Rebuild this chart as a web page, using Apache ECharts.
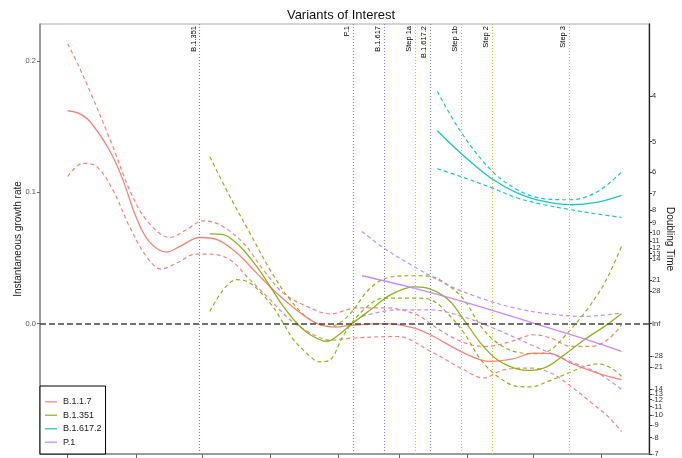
<!DOCTYPE html>
<html><head><meta charset="utf-8">
<script src="https://cdn.jsdelivr.net/npm/echarts@6/dist/echarts.min.js"></script>
<style>html,body{margin:0;padding:0;background:#fff}#c{width:682px;height:458px}</style>
</head><body><div id="c"></div>
<script>
// ---- data (x = days since 2020-10-01) ----
const ORIGIN = '2020-10-01';
const monthTicks = ['2020-10-01','2020-11-01','2020-12-01','2021-01-01','2021-02-01','2021-03-01','2021-04-01','2021-05-01','2021-06-01'];
const eventNames = ['B.1.351','P.1','B.1.617','Step 1a','B.1.617.2','Step 1b','Step 2','Step 3'];
const eventDates = ['2020-11-30','2021-02-08','2021-02-22','2021-03-08','2021-03-15','2021-03-29','2021-04-12','2021-05-17'];
const eventKinds = ['variant','variant','variant','step','variant','step','step','step'];
const rateTicks = [0, 0.1, 0.2];
const doublingTicks = [4,5,6,7,8,9,10,11,12,13,14,21,28,Infinity,-28,-21,-14,-13,-12,-11,-10,-9,-8,-7];

const b117Days = [0,5,10,19,25,31,37,45,51,60,68,77,86,95,104,113,122,129,144,157,165,180,192,202,212,220,229,241,252];
const b117Rate = [0.162,0.160,0.154,0.132,0.110,0.0816,0.0626,0.0545,0.0588,0.0656,0.0639,0.0538,0.0385,0.0233,0.0106,0.0005,-0.0025,-0.0012,0.0,-0.003,-0.0084,-0.022,-0.0287,-0.027,-0.0223,-0.0228,-0.0299,-0.0375,-0.0426];
const b117UpDays = [0,5,10.6,20.5,28.1,35.8,46.4,54,61.6,69.2,79.9,89,98.1,108.8,119.5,131.6,145.3,159,165.1,174.2,183.4,191,201.6,212.3,219.9,229,238.2,245.8,252];
const b117Up = [0.213,0.196,0.175,0.135,0.102,0.079,0.0656,0.0715,0.0783,0.0753,0.0614,0.041,0.0233,0.0132,0.0075,0.012,0.012,0.0068,0,-0.0097,-0.016,-0.0172,-0.0135,-0.0084,-0.011,-0.0172,-0.0172,-0.012,-0.0008];
const b117LoDays = [0,6.8,12.8,20.5,28.1,35.8,42.6,49.4,58.6,64.7,73.8,82.9,92.1,101.2,110.4,119.5,128.6,150,165.1,180.2,189.3,198.4,210.5,219.9,229,238.2,245.8,252];
const b117Lo = [0.112,0.122,0.12,0.102,0.074,0.0512,0.0416,0.046,0.053,0.053,0.0487,0.0335,0.0183,0.003,-0.007,-0.0125,-0.011,-0.0097,-0.021,-0.035,-0.0413,-0.035,-0.0337,-0.0375,-0.0477,-0.060,-0.0705,-0.082];

const b351Days = [64.7,70.8,78.4,86,92.1,98.1,104.2,110.4,118,124,129.4,137.8,146.9,157.5,163.6,173.2,180.3,187.9,195.5,204.7,210.8,218.4,226,235.1,244.3,252];
const b351Rate = [0.0684,0.0677,0.0588,0.0436,0.0284,0.0132,0.0005,-0.0084,-0.0135,-0.0076,0,0.0106,0.022,0.028,0.027,0.0183,0.003,-0.0147,-0.0274,-0.0345,-0.0355,-0.0325,-0.0236,-0.0122,-0.002,0.0076];
const b351UpDays = [64.7,73.8,82.9,92.1,101.2,110.4,119.5,127.6,137.8,146.9,157.5,165.1,172.7,180.3,188,195.5,204.7,213.8,219.9,226,235.1,244.3,252];
const b351Up = [0.127,0.0968,0.069,0.041,0.0183,0.003,-0.002,0.006,0.0274,0.0355,0.0365,0.036,0.0297,0.0183,-0.002,-0.0147,-0.0218,-0.0228,-0.0198,-0.0097,0.0081,0.031,0.0588];
const b351LoDays = [64.7,70.8,76.8,82.9,92.1,98.1,102.7,110.4,114.5,119.5,125.6,134.7,143.9,157.5,165.1,172.7,180.3,188,195.5,204.7,210.8,218.4,226,235.1,241.2,247.3,252];
const b351Lo = [0.0094,0.0259,0.0335,0.031,0.0157,0.0005,-0.012,-0.025,-0.029,-0.0274,-0.0084,0.0106,0.0195,0.0195,0.0183,0.0081,-0.007,-0.0274,-0.040,-0.0477,-0.048,-0.044,-0.0388,-0.0325,-0.0306,-0.0337,-0.040];

const b6172Days = [168.2,178.8,192.5,204.7,216.8,229,241.2,252];
const b6172Rate = [0.1468,0.1298,0.1108,0.0994,0.093,0.0905,0.0925,0.0976];
const b6172Up = [0.1767,0.1462,0.1171,0.1019,0.095,0.0943,0.1006,0.1154];
const b6172Lo = [0.1179,0.112,0.1037,0.0956,0.0905,0.0867,0.0834,0.0808];

const p1Days = [133.9,157.5,184.9,210.8,235.1,252];
const p1Rate = [0.0365,0.0271,0.0144,0.001,-0.0116,-0.021];
const p1UpDays = [133.9,143.8,157.5,172.7,187.9,203.2,218.4,235.1,252];
const p1Up = [0.0702,0.0576,0.0436,0.0297,0.0195,0.012,0.0076,0.0056,0.0081];
const p1LoDays = [133.9,149.9,165.1,180.3,195.5,210.8,226,241.2,252];
const p1Lo = [0.0056,0.0106,0.0106,0.0051,-0.0046,-0.016,-0.0269,-0.0375,-0.050];

// ---- build ----
function dayOf(s){
  const p = s.split('-').map(Number), o = ORIGIN.split('-').map(Number);
  return (Date.UTC(p[0],p[1]-1,p[2]) - Date.UTC(o[0],o[1]-1,o[2]))/86400000;
}
function pairs(xs, ys){ return xs.map((x,i)=>[x, ys[i]]); }
const FONT = 'Liberation Sans, Arial, Helvetica, sans-serif';
const COLORS = {'B.1.1.7':'#F8766D','B.1.351':'#7CAE00','B.1.617.2':'#00BFC4','P.1':'#C77CFF'};
const XMIN = -12.6, XMAX = 264.5, YMIN = -0.0991, YMAX = 0.228;

function lineSeries(name, data, color, dashed, extra){
  return Object.assign({
    name, type:'line', data, smooth:0.35, symbol:'none', showSymbol:false,
    silent:true, z: dashed ? 3 : 4,
    lineStyle:{color, width: dashed ? 1.2 : 1.3, type: dashed ? [4,3] : 'solid', opacity:0.9},
    itemStyle:{color}
  }, extra || {});
}

const eventLines = eventNames.map((n,i)=>({
  name:n, xAxis: dayOf(eventDates[i]),
  lineStyle:{color: eventKinds[i]==='step' ? '#F2B243' : '#8282CC', type:[1,2], width:1.1},
  label:{show:true, formatter:n, position:'insideEndTop', fontSize:7.5, color:'#000', fontFamily:FONT, distance:2}
}));
eventLines.push({yAxis:0, lineStyle:{color:'#444', type:[6,3], width:1.6}, label:{show:false}});

const series = [
  lineSeries('B.1.1.7', pairs(b117Days,b117Rate), COLORS['B.1.1.7'], false, {
    markLine:{silent:true, symbol:['none','none'], animation:false, data:eventLines}
  }),
  lineSeries('B.1.1.7 upper', pairs(b117UpDays,b117Up), COLORS['B.1.1.7'], true),
  lineSeries('B.1.1.7 lower', pairs(b117LoDays,b117Lo), COLORS['B.1.1.7'], true),
  lineSeries('B.1.351', pairs(b351Days,b351Rate), COLORS['B.1.351'], false),
  lineSeries('B.1.351 upper', pairs(b351UpDays,b351Up), COLORS['B.1.351'], true),
  lineSeries('B.1.351 lower', pairs(b351LoDays,b351Lo), COLORS['B.1.351'], true),
  lineSeries('B.1.617.2', pairs(b6172Days,b6172Rate), COLORS['B.1.617.2'], false),
  lineSeries('B.1.617.2 upper', pairs(b6172Days,b6172Up), COLORS['B.1.617.2'], true),
  lineSeries('B.1.617.2 lower', pairs(b6172Days,b6172Lo), COLORS['B.1.617.2'], true),
  lineSeries('P.1', pairs(p1Days,p1Rate), COLORS['P.1'], false),
  lineSeries('P.1 upper', pairs(p1UpDays,p1Up), COLORS['P.1'], true),
  lineSeries('P.1 lower', pairs(p1LoDays,p1Lo), COLORS['P.1'], true)
];

const rightTickVals = doublingTicks.map(t => Math.LN2 / t);

const chart = echarts.init(document.getElementById('c'), null, {renderer:'canvas'});
chart.setOption({
  animation:false,
  backgroundColor:'#fff',
  textStyle:{fontFamily:FONT},
  title:{text:'Variants of Interest', left:'center', top:4,
    textStyle:{fontSize:13, fontWeight:'normal', color:'#111', fontFamily:FONT}},
  grid:{left:40, right:33, top:24, bottom:4, show:true, borderColor:'#aaa', borderWidth:1,
    containLabel:false, outerBoundsMode:'none'},
  legend:{
    orient:'vertical', left:40, top:386, data:['B.1.1.7','B.1.351','B.1.617.2','P.1'],
    icon:'rect', padding:[9,4,5,5], itemGap:0, itemWidth:12, itemHeight:1.5,
    borderColor:'#000', borderWidth:1, backgroundColor:'#fff', selectedMode:false,
    itemStyle:{opacity:0.75},
    textStyle:{fontSize:9, color:'#222', fontFamily:FONT, lineHeight:13.5, padding:[0,0,0,1]}
  },
  xAxis:{
    type:'value', min:XMIN, max:XMAX,
    axisLine:{show:true, onZero:false, lineStyle:{color:'#888', width:1.5}},
    axisTick:{show:true, customValues: monthTicks.map(dayOf), length:4, lineStyle:{color:'#666'}},
    axisLabel:{show:false},
    splitLine:{show:false}
  },
  yAxis:[{
    type:'value', min:YMIN, max:YMAX, position:'left',
    name:'Instantaneous growth rate', nameLocation:'middle', nameGap:17, nameMoveOverlap:false,
    nameTextStyle:{fontSize:10, color:'#222', fontFamily:FONT},
    axisLine:{show:true, onZero:false, lineStyle:{color:'#888', width:1.5}},
    axisTick:{show:true, customValues:rateTicks, length:3, lineStyle:{color:'#666'}},
    axisLabel:{customValues:rateTicks, formatter:v=>v.toFixed(1), fontSize:7.5, color:'#555', margin:4, fontFamily:FONT},
    splitLine:{show:false}
  },{
    type:'value', min:YMIN, max:YMAX, position:'right',
    name:'Doubling Time', nameLocation:'middle', nameGap:16, nameRotate:-90, nameMoveOverlap:false,
    nameTextStyle:{fontSize:10, color:'#222', fontFamily:FONT},
    axisLine:{show:true, onZero:false, lineStyle:{color:'#222', width:1.3}},
    axisTick:{show:true, customValues:rightTickVals, length:3, lineStyle:{color:'#333'}},
    axisLabel:{customValues:rightTickVals, fontSize:7.5, color:'#333', margin:3, fontFamily:FONT,
      formatter:v=> Math.abs(v) < 1e-12 ? 'Inf' : String(Math.round(Math.LN2 / v))},
    splitLine:{show:false}
  }],
  series
});
</script></body></html>
